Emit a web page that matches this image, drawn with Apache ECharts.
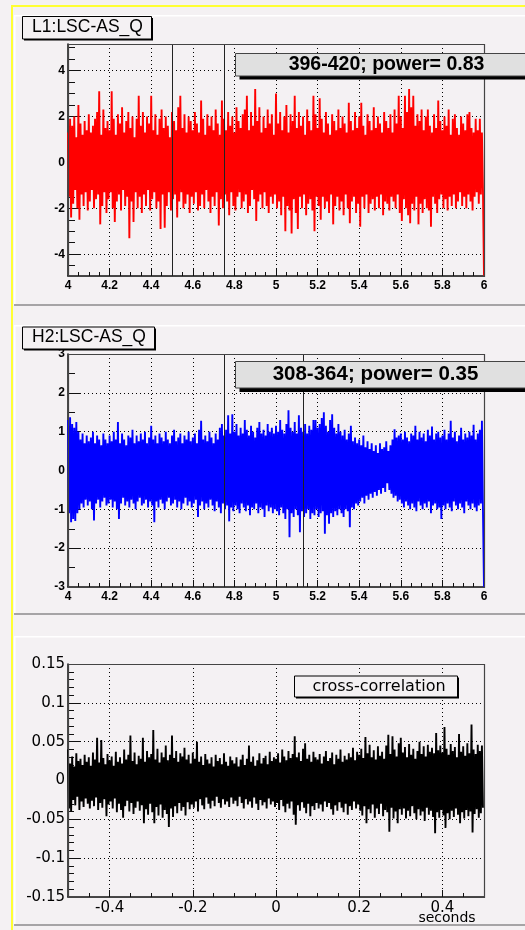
<!DOCTYPE html>
<html>
<head>
<meta charset="utf-8">
<script src="https://cdn.jsdelivr.net/npm/echarts@6/dist/echarts.min.js"></script>
<style>
  html, body { margin: 0; padding: 0; background: #f4f1f3; }
  #chart { width: 525px; height: 930px; }
</style>
</head>
<body>
<div id="chart"></div>
<script>
// ---- L1:LSC-AS_Q, 4.00 s .. 6.00 s, per 10 ms bin: upper / lower excursion ----
const l1Start = 4.0, l1Step = 0.01;
const l1Hi = [
  1.3,1.9,1.6,2.0,1.1,2.5,1.7,1.2,1.8,1.4,2.1,1.3,1.6,1.9,2.2,3.1,1.2,2.3,1.5,1.8,
  1.4,3.1,1.9,1.2,2.1,1.7,2.4,1.3,1.8,2.2,1.5,2.0,1.1,1.9,2.9,1.6,2.2,1.3,2.0,1.7,
  2.9,1.4,2.1,1.2,1.9,2.3,1.5,2.0,1.6,1.1,2.2,1.8,1.4,2.4,2.9,1.5,2.1,1.3,2.0,1.8,
  1.4,2.2,1.7,1.3,2.7,1.9,1.2,2.1,1.6,2.0,1.4,2.3,1.7,1.2,2.7,1.9,1.4,2.2,1.6,2.0,
  1.3,2.4,1.8,1.5,2.1,2.3,2.9,1.4,2.2,1.6,3.2,1.8,2.4,1.3,2.0,1.5,2.3,1.7,2.1,1.2,
  3.0,1.7,2.2,1.4,2.0,2.5,1.3,2.1,1.8,2.9,1.5,2.2,1.6,2.0,1.2,2.3,1.8,1.4,2.9,2.1,
  1.5,2.8,1.9,1.3,2.2,1.7,1.2,2.1,1.8,1.4,2.3,1.5,2.0,1.7,1.3,2.6,1.8,1.4,2.2,1.5,
  2.0,2.6,1.6,1.2,2.1,1.8,1.4,2.4,1.5,2.0,1.7,1.3,2.2,1.8,1.5,2.1,1.3,2.3,1.7,2.9,
  2.0,1.5,2.9,2.2,3.2,2.4,2.9,1.6,2.1,1.8,2.3,1.4,2.0,2.3,1.6,1.3,2.1,1.5,2.7,1.8,
  1.4,2.0,1.6,2.3,1.2,1.9,2.1,1.5,1.2,2.0,1.7,1.4,2.1,2.2,1.5,1.3,1.9,1.4,1.9,1.3
];
const l1Lo = [
  -1.5,-2.4,-1.8,-1.2,-2.0,-2.5,-1.4,-1.9,-1.3,-2.1,-1.7,-1.2,-2.0,-1.6,-1.4,-2.7,-1.9,-1.3,-2.2,-1.6,
  -1.3,-2.0,-2.6,-1.7,-1.4,-2.1,-1.2,-1.9,-1.5,-3.3,-1.7,-2.6,-1.3,-2.0,-1.5,-2.2,-1.4,-1.9,-1.2,-2.1,
  -1.6,-1.3,-2.0,-1.7,-2.9,-1.4,-2.85,-1.9,-1.3,-2.1,-1.6,-1.4,-2.4,-1.7,-1.3,-2.0,-1.8,-1.4,-2.2,-1.5,
  -1.8,-1.3,-2.1,-1.9,-1.4,-2.0,-1.2,-1.7,-2.2,-1.5,-1.9,-1.3,-2.75,-1.6,-2.0,-1.4,-1.7,-2.3,-1.3,-1.9,
  -2.1,-1.5,-1.3,-2.0,-1.7,-1.4,-2.2,-1.9,-1.2,-1.6,-2.55,-1.7,-1.4,-2.0,-1.3,-1.9,-2.2,-1.5,-1.8,-1.4,
  -2.0,-1.7,-2.3,-1.5,-3.0,-1.9,-2.1,-3.1,-1.6,-2.2,-2.9,-1.5,-2.0,-1.4,-2.3,-1.8,-1.6,-2.1,-3.0,-1.5,
  -1.9,-2.5,-1.5,-2.0,-1.7,-2.2,-1.4,-2.7,-1.9,-1.5,-2.1,-1.7,-2.3,-1.4,-2.0,-2.65,-1.7,-1.5,-2.2,-1.8,
  -2.8,-1.5,-2.0,-1.4,-2.2,-1.8,-1.6,-2.1,-1.5,-2.0,-1.4,-2.3,-1.7,-1.8,-2.1,-1.5,-1.7,-2.0,-1.4,-2.2,
  -2.55,-1.6,-2.0,-2.3,-2.65,-1.8,-2.1,-1.5,-2.7,-1.8,-2.2,-1.6,-2.0,-2.1,-2.8,-1.5,-1.8,-2.2,-1.6,-1.4,
  -2.0,-1.6,-2.1,-1.5,-1.9,-1.4,-2.0,-1.7,-1.3,-1.9,-1.5,-2.0,-1.4,-1.7,-2.1,-1.5,-1.3,-1.8,-1.4,-1.2
];
const l1End = [6.0, -4.93];           // closing sample of the record
const l1Markers = [4.5, 4.75];        // segment boundaries (s)
const l1Note = '396-420; power= 0.83';

// ---- H2:LSC-AS_Q ----
const h2Start = 4.0, h2Step = 0.01;
const h2Hi = [
  1.3,1.37,1.2,1.1,1.25,1.0,0.8,0.95,0.7,0.9,0.75,0.85,1.0,0.7,0.9,0.8,0.65,0.95,0.8,0.7,
  0.9,0.75,1.0,0.8,1.25,0.7,0.95,0.8,0.65,0.9,0.85,1.05,0.7,0.9,0.75,0.95,0.8,1.0,0.7,0.85,
  1.15,0.8,0.9,0.7,0.95,0.85,0.75,1.0,0.8,0.7,0.9,1.05,0.75,0.85,0.95,0.7,0.9,0.8,1.0,0.75,
  0.85,0.95,0.7,1.05,1.28,0.8,0.9,0.75,1.0,0.85,0.7,0.95,0.8,1.1,1.2,0.9,1.05,1.42,0.95,1.45,
  1.0,1.2,0.9,1.1,0.95,1.3,1.05,0.9,1.15,1.0,0.85,1.1,1.25,0.95,1.05,0.9,1.2,1.0,1.1,0.95,
  1.15,1.0,1.3,1.05,0.95,1.2,1.55,1.1,1.0,1.25,0.95,1.42,1.1,1.0,1.2,0.95,1.15,1.05,1.3,1.3,
  1.1,1.2,1.35,1.5,1.15,1.0,1.3,1.45,1.1,0.95,1.2,1.0,0.9,1.05,0.8,0.95,1.15,0.75,0.85,0.7,
  0.8,0.65,0.9,0.6,0.75,0.55,0.7,0.5,0.65,0.45,0.7,0.55,0.6,0.75,0.5,0.65,0.8,1.06,0.85,0.9,
  0.95,0.8,1.0,0.85,0.75,0.95,0.9,1.15,0.8,1.0,0.85,0.95,0.75,1.05,0.9,1.13,0.8,0.95,1.0,0.85,
  0.9,1.05,0.8,0.95,1.28,0.85,1.0,0.75,0.9,1.1,0.8,0.95,0.85,1.0,0.9,1.18,0.8,0.95,1.05,1.28
];
const h2Lo = [
  -1.1,-1.33,-1.25,-1.3,-1.1,-1.0,-0.85,-0.95,-0.75,-0.9,-0.8,-1.0,-1.29,-0.85,-0.75,-0.95,-0.8,-0.7,-0.9,-0.85,
  -0.75,-0.95,-0.8,-1.0,-1.25,-0.85,-0.7,-0.9,-0.8,-0.95,-0.75,-0.85,-1.0,-0.8,-0.7,-0.9,-0.85,-0.75,-0.95,-0.8,
  -0.9,-1.33,-0.8,-0.95,-0.75,-0.85,-1.0,-0.8,-0.7,-0.9,-0.85,-0.75,-0.95,-0.8,-1.0,-0.85,-0.7,-0.9,-0.8,-0.95,
  -0.85,-0.75,-1.2,-0.9,-0.8,-1.0,-0.85,-0.95,-0.75,-0.9,-1.05,-0.8,-0.95,-1.1,-0.85,-1.0,-0.9,-1.31,-0.95,-1.05,
  -0.9,-1.0,-1.1,-0.85,-0.95,-1.05,-0.9,-1.15,-0.95,-1.0,-0.85,-1.1,-0.95,-1.0,-1.2,-0.9,-1.05,-0.95,-1.1,-1.0,
  -1.05,-1.15,-0.95,-1.1,-1.25,-1.0,-1.72,-1.1,-1.2,-1.0,-1.15,-1.59,-1.05,-1.2,-1.1,-1.0,-1.25,-1.1,-1.15,-1.0,
  -1.2,-1.1,-1.05,-1.63,-1.15,-1.37,-1.1,-1.2,-1.05,-1.15,-1.0,-1.1,-1.2,-1.0,-1.05,-1.46,-0.95,-1.0,-0.85,-0.9,
  -0.8,-0.7,-0.85,-0.65,-0.75,-0.6,-0.7,-0.55,-0.65,-0.5,-0.6,-0.45,-0.55,-0.33,-0.5,-0.6,-0.7,-0.65,-0.8,-0.75,
  -0.85,-0.95,-0.8,-0.9,-1.0,-0.85,-0.95,-1.05,-0.8,-0.9,-1.0,-0.85,-0.95,-0.8,-1.1,-0.9,-0.85,-1.0,-0.95,-1.25,
  -0.9,-1.0,-0.85,-0.95,-1.05,-0.8,-0.9,-1.0,-0.85,-0.95,-1.1,-0.8,-0.9,-1.0,-0.85,-0.95,-1.05,-0.9,-0.85,-1.0
];
const h2End = [6.0, -3.0];
const h2Markers = [4.75, 5.125];
const h2Note = '308-364; power= 0.35';

// ---- cross-correlation, lag -0.5 s .. +0.5 s, 5 ms bins ----
const xcStart = -0.5, xcStep = 0.005;
const xcHi = [
  0.040,0.022,0.031,0.018,0.035,0.025,0.028,0.020,0.033,0.024,0.030,0.019,0.036,0.027,0.055,0.023,0.052,0.029,0.021,0.034,
  0.026,0.031,0.019,0.037,0.024,0.030,0.022,0.040,0.027,0.033,0.058,0.025,0.036,0.021,0.032,0.028,0.055,0.024,0.038,0.030,
  0.034,0.065,0.027,0.041,0.023,0.036,0.030,0.045,0.026,0.033,0.058,0.029,0.038,0.024,0.035,0.031,0.042,0.027,0.033,0.022,
  0.036,0.028,0.050,0.024,0.031,0.020,0.034,0.027,0.022,0.030,0.018,0.033,0.025,0.029,0.021,0.035,0.024,0.019,0.031,0.026,
  0.022,0.030,0.018,0.027,0.033,0.020,0.028,0.045,0.024,0.031,0.019,0.026,0.035,0.022,0.029,0.032,0.021,0.037,0.025,0.030,
  0.028,0.035,0.023,0.040,0.031,0.026,0.038,0.029,0.034,0.057,0.030,0.036,0.025,0.041,0.048,0.028,0.033,0.024,0.037,0.030,
  0.027,0.034,0.022,0.031,0.038,0.025,0.029,0.036,0.021,0.033,0.028,0.040,0.024,0.032,0.027,0.035,0.030,0.042,0.026,0.037,
  0.033,0.041,0.029,0.056,0.035,0.046,0.030,0.039,0.027,0.044,0.032,0.037,0.028,0.045,0.059,0.034,0.057,0.040,0.031,0.048,
  0.055,0.036,0.043,0.030,0.047,0.033,0.041,0.028,0.038,0.050,0.034,0.044,0.031,0.046,0.037,0.042,0.035,0.061,0.039,0.045,
  0.036,0.069,0.041,0.033,0.047,0.038,0.043,0.030,0.060,0.037,0.044,0.032,0.048,0.035,0.072,0.040,0.034,0.046,0.038,0.045
];
const xcLo = [
  -0.036,-0.040,-0.025,-0.032,-0.021,-0.038,-0.027,-0.034,-0.023,-0.030,-0.036,-0.026,-0.033,-0.022,-0.038,-0.029,-0.035,-0.024,-0.046,-0.031,
  -0.027,-0.036,-0.023,-0.041,-0.030,-0.038,-0.048,-0.033,-0.026,-0.040,-0.029,-0.043,-0.035,-0.027,-0.039,-0.032,-0.055,-0.037,-0.044,-0.030,
  -0.041,-0.055,-0.034,-0.045,-0.031,-0.048,-0.038,-0.043,-0.060,-0.036,-0.047,-0.033,-0.042,-0.029,-0.039,-0.034,-0.045,-0.028,-0.037,-0.031,
  -0.035,-0.027,-0.040,-0.024,-0.032,-0.037,-0.022,-0.030,-0.036,-0.026,-0.033,-0.021,-0.029,-0.035,-0.024,-0.031,-0.027,-0.034,-0.022,-0.030,
  -0.026,-0.033,-0.021,-0.029,-0.036,-0.024,-0.031,-0.027,-0.035,-0.022,-0.030,-0.038,-0.025,-0.032,-0.028,-0.036,-0.023,-0.031,-0.027,-0.034,
  -0.029,-0.038,-0.025,-0.033,-0.041,-0.030,-0.036,-0.027,-0.044,-0.057,-0.032,-0.039,-0.028,-0.035,-0.042,-0.030,-0.046,-0.033,-0.038,-0.029,
  -0.036,-0.031,-0.040,-0.027,-0.034,-0.029,-0.037,-0.044,-0.032,-0.039,-0.028,-0.035,-0.041,-0.030,-0.044,-0.033,-0.038,-0.027,-0.036,-0.031,
  -0.039,-0.045,-0.033,-0.055,-0.037,-0.042,-0.031,-0.048,-0.036,-0.043,-0.030,-0.046,-0.038,-0.041,-0.066,-0.035,-0.049,-0.040,-0.055,-0.037,
  -0.044,-0.036,-0.049,-0.039,-0.046,-0.033,-0.042,-0.050,-0.037,-0.045,-0.040,-0.052,-0.035,-0.044,-0.039,-0.047,-0.068,-0.041,-0.048,-0.038,
  -0.045,-0.061,-0.042,-0.050,-0.039,-0.047,-0.036,-0.044,-0.055,-0.041,-0.049,-0.038,-0.046,-0.040,-0.067,-0.043,-0.037,-0.048,-0.042,-0.035
];

const l1Title = 'L1:LSC-AS_Q';
const h2Title = 'H2:LSC-AS_Q';
const xcTitle = 'cross-correlation';
const xcAxisTitle = 'seconds';

// Interleave each bin's upper and lower excursion into one zig-zag trace.
function envelopeTrace(start, step, hi, lo, tail) {
  const pts = [];
  for (let i = 0; i < hi.length; i++) {
    pts.push([start + i * step, hi[i]]);
    pts.push([start + (i + 0.5) * step, lo[i]]);
  }
  if (tail) pts.push(tail);
  return pts;
}

const BG = '#f4f1f3';
const INK = '#111';
const DOTS = [1, 3];
const fontA = { color: '#000', fontFamily: 'Liberation Sans', fontWeight: 'bold', fontSize: 12 };
const fontB = { color: '#000', fontFamily: 'DejaVu Sans', fontSize: 15 };
const fmt1 = v => String(+(+v).toFixed(1));
const fmt2 = v => String(+(+v).toFixed(2));
const gridDots = { show: true, showMinLine: false, showMaxLine: false,
  lineStyle: { color: '#000', type: DOTS, width: 1 } };
const axisLineOn = { show: true, onZero: false, lineStyle: { color: INK, width: 1.5 } };

const G = [
  { left: 68, top: 44, width: 416, height: 232 },
  { left: 68, top: 354, width: 416, height: 233 },
  { left: 68, top: 664, width: 416, height: 233 }
];

const timeAxis = gi => ({
  gridIndex: gi, type: 'value', min: 4, max: 6, interval: 0.2, position: 'bottom',
  axisLine: axisLineOn,
  axisTick: { show: true, inside: true, length: 7, lineStyle: { color: INK } },
  minorTick: { show: true, splitNumber: 4, length: 4, lineStyle: { color: INK } },
  axisLabel: Object.assign({ margin: 4, formatter: fmt1 }, fontA),
  splitLine: gridDots
});

const xAxis = [
  timeAxis(0),
  timeAxis(1),
  { gridIndex: 2, type: 'value', min: -0.5, max: 0.5, splitNumber: 5, position: 'bottom',
    axisLine: axisLineOn,
    axisTick: { show: true, inside: true, length: 7, lineStyle: { color: INK } },
    axisLabel: Object.assign({ margin: 4, formatter: fmt1, showMinLabel: false, showMaxLabel: false }, fontB),
    splitLine: gridDots },
  // fine 0.05 s ticks on the lag axis
  { gridIndex: 2, type: 'value', min: -0.5, max: 0.5, splitNumber: 20, position: 'bottom',
    axisLine: { show: false, onZero: false },
    axisTick: { show: true, inside: true, length: 4, lineStyle: { color: INK } },
    axisLabel: { show: false }, splitLine: { show: false } }
];

const yAxis = [
  { gridIndex: 0, type: 'value', min: -4.95, max: 5.16, splitNumber: 5, position: 'left',
    axisLine: axisLineOn,
    axisTick: { show: true, inside: true, length: 13, lineStyle: { color: INK } },
    axisLabel: Object.assign({ margin: 3, showMinLabel: false, showMaxLabel: false }, fontA),
    splitLine: gridDots },
  // half-unit ticks for the L1 amplitude axis
  { gridIndex: 0, type: 'value', min: -4.95, max: 5.16, splitNumber: 20, position: 'left',
    axisLine: { show: false, onZero: false },
    axisTick: { show: true, inside: true, length: 7, lineStyle: { color: INK } },
    axisLabel: { show: false }, splitLine: { show: false } },
  { gridIndex: 1, type: 'value', min: -3, max: 3, interval: 1, position: 'left',
    axisLine: axisLineOn,
    axisTick: { show: true, inside: true, length: 13, lineStyle: { color: INK } },
    minorTick: { show: true, splitNumber: 2, length: 7, lineStyle: { color: INK } },
    axisLabel: Object.assign({ margin: 3 }, fontA),
    splitLine: gridDots },
  { gridIndex: 2, type: 'value', min: -0.15, max: 0.15, interval: 0.05, position: 'left',
    axisLine: axisLineOn,
    axisTick: { show: true, inside: true, length: 13, lineStyle: { color: INK } },
    minorTick: { show: true, splitNumber: 5, length: 6, lineStyle: { color: INK } },
    axisLabel: Object.assign({ margin: 3, formatter: fmt2 }, fontB),
    splitLine: gridDots }
];

const markers = list => ({
  silent: true, symbol: ['none', 'none'], label: { show: false },
  lineStyle: { color: '#222', type: 'solid', width: 1 },
  emphasis: { disabled: true },
  data: list.map(v => ({ xAxis: v }))
});

const traceSeries = (xi, yi, color, data, mk) => ({
  type: 'line', xAxisIndex: xi, yAxisIndex: yi, data: data,
  symbol: 'none', showSymbol: false, clip: true,
  lineStyle: { color: color, width: 1.9, join: 'miter', miterLimit: 4 }, itemStyle: { color: color },
  emphasis: { disabled: true },
  markLine: mk
});

const series = [
  traceSeries(0, 0, '#ff0000', envelopeTrace(l1Start, l1Step, l1Hi, l1Lo, l1End), markers(l1Markers)),
  traceSeries(1, 2, '#0000ff', envelopeTrace(h2Start, h2Step, h2Hi, h2Lo, h2End), markers(h2Markers)),
  traceSeries(2, 3, '#000000', envelopeTrace(xcStart, xcStep, xcHi, xcLo, null), undefined)
];

// ---- pad decoration, frames and text boxes ----
function txt(text, x, y, font, align) {
  return { type: 'text', z: 120,
    style: { text: text, x: x, y: y, font: font, fill: '#000',
      align: align || 'center', verticalAlign: 'middle',
      textAlign: align || 'center', textVerticalAlign: 'middle' } };
}
function box(x, y, w, h, fill, stroke, shadow, sx, sy) {
  return [
    { type: 'rect', z: 110, shape: { x: x + sx, y: y + sy, width: w, height: h }, style: { fill: shadow } },
    { type: 'rect', z: 111, shape: { x: x, y: y, width: w, height: h }, style: { fill: fill, stroke: stroke, lineWidth: 1 } }
  ];
}
function pad(top, bottom) {
  return [
    { type: 'rect', z: 1, shape: { x: 14, y: top, width: 511, height: 1.5 }, style: { fill: '#ffffff' } },
    { type: 'rect', z: 1, shape: { x: 14, y: top, width: 1.5, height: bottom - top }, style: { fill: '#ffffff' } },
    { type: 'rect', z: 1, shape: { x: 14, y: bottom - 1, width: 511, height: 2 }, style: { fill: '#a6a4a6' } }
  ];
}
function frame(g) {
  return { type: 'rect', z: 100,
    shape: { x: g.left + 0.5, y: g.top + 0.5, width: g.width, height: g.height },
    style: { fill: null, stroke: '#444', lineWidth: 1.2 } };
}

const graphic = [].concat(
  [
    { type: 'rect', z: 2, shape: { x: 11, y: 5, width: 514, height: 2 }, style: { fill: '#ffff33' } },
    { type: 'rect', z: 2, shape: { x: 11, y: 5, width: 2, height: 925 }, style: { fill: '#ffff33' } }
  ],
  pad(15, 305), pad(325, 614), pad(636, 925),
  G.map(frame),
  box(22.5, 16.5, 129, 22.5, BG, '#000', '#000', 1.5, 1.5),
  [txt(l1Title, 87.5, 27.5, '17.5px "Liberation Sans"')],
  box(22.5, 327, 132, 22, BG, '#000', '#000', 1.5, 1.5),
  [txt(h2Title, 89, 337.5, '17.5px "Liberation Sans"')],
  box(235.5, 53.5, 300, 22.5, '#e0e0e0', '#444', '#000', 4, 3.5),
  [txt(l1Note, 386.5, 64.5, 'bold 19.5px "Liberation Sans"')],
  box(235.5, 361.5, 300, 26.5, '#e0e0e0', '#444', '#000', 4, 4),
  [txt(h2Note, 375.5, 374.5, 'bold 20.5px "Liberation Sans"')],
  box(294.5, 676, 163, 21, BG, '#000', '#000', 1.5, 1.5),
  [txt(xcTitle, 379, 686.5, '16px "DejaVu Sans"')],
  [txt(xcAxisTitle, 447, 918, '14px "DejaVu Sans"')]
);

const chart = echarts.init(document.getElementById('chart'), null, { renderer: 'canvas' });
chart.setOption({
  backgroundColor: BG,
  animation: false,
  grid: G.map(g => Object.assign({ show: false, containLabel: false }, g)),
  xAxis: xAxis,
  yAxis: yAxis,
  series: series,
  graphic: graphic
});
</script>
</body>
</html>
